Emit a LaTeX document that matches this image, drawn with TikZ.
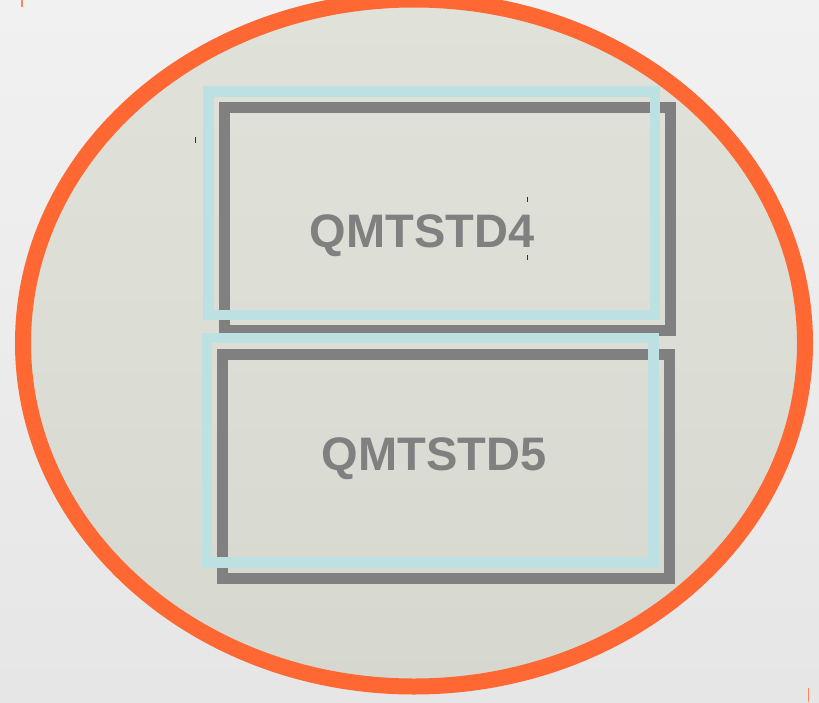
\documentclass[tikz,border=0pt]{standalone}
\usepackage{fontspec}
\newfontfamily\labelfont{Liberation Sans}
\definecolor{pagebg}{HTML}{F1F1F1}
\definecolor{pagebgdark}{HTML}{E6E6E6}
\definecolor{ringorange}{HTML}{FF6733}
\definecolor{discfilltop}{HTML}{E0E2DA}
\definecolor{discfillbot}{HTML}{D6D8CF}
\definecolor{framegray}{HTML}{808080}
\definecolor{frameblue}{HTML}{BDE0E3}
\tikzset{
  grayframe/.style={draw=framegray, line width=11pt},
  blueframe/.style={draw=frameblue, line width=10.5pt},
  lib/.style={font=\labelfont\bfseries\fontsize{47}{47}\selectfont, text=framegray, inner sep=0pt, anchor=base},
  tickmark/.style={draw=black!80, line width=0.9pt},
  orangetick/.style={draw=ringorange!80, line width=1.2pt}
}
\begin{document}
\begin{tikzpicture}[x=1pt, y=-1pt]
  \useasboundingbox (0,0) rectangle (819,702);
  \clip (0,0) rectangle (819,702);
  % page background
  \shade[top color=pagebg, bottom color=pagebgdark] (0,0) rectangle (819,702);
  % the disc and its orange ring
  \shade[top color=discfilltop, bottom color=discfillbot, middle color=discfilltop!60!discfillbot]
    (414,343) ellipse [x radius=391, y radius=343.5];
  \draw[ringorange, line width=16pt] (414,343) ellipse [x radius=391, y radius=343.5];

  % library QMTSTD4
  \draw[grayframe] (224.5,107) rectangle (670,330.5);
  \draw[blueframe] (208.5,91.5) rectangle (655,315);
  \node[lib] (lib4) at (422,247) {QMTSTD4};

  % library QMTSTD5
  \draw[grayframe] (222,354.5) rectangle (669.5,578);
  \draw[blueframe] (207,338) rectangle (653.5,562.5);
  \node[lib] (lib5) at (434,470) {QMTSTD5};

  % small marks
  \draw[tickmark] (195.7,137) -- (195.7,143);
  \draw[tickmark] (527.3,197) -- (527.3,202);
  \draw[tickmark] (527.3,255) -- (527.3,260);
  \draw[orangetick] (22,0) -- (22,7);
  \draw[orangetick] (808.3,688) -- (808.3,702);
\end{tikzpicture}
\end{document}
